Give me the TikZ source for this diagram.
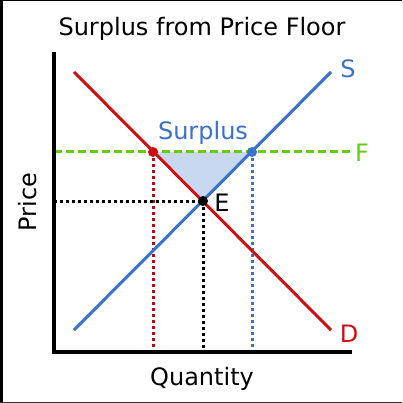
\documentclass[tikz,border=0pt]{standalone}
\usepackage{fontspec}
\setmainfont{DejaVu Sans}
\definecolor{sblue}{RGB}{58,114,200}
\definecolor{dred}{RGB}{204,16,20}
\definecolor{fgreen}{RGB}{102,204,17}
\definecolor{tfill}{RGB}{200,216,240}
\begin{document}
\begin{tikzpicture}[x=1pt,y=-1pt,
  lbl/.style={font=\fontsize{24}{28}\selectfont, inner sep=0pt},
  axisline/.style={line width=4pt},
  curve/.style={line width=3pt},
  dotline/.style={line width=3pt, dash pattern=on 3pt off 3pt},
  pt/.style={circle, inner sep=0pt, minimum size=10pt}]
\useasboundingbox (0,0) rectangle (402,403);
\fill[white] (0,0) rectangle (402,403);
% frame edges
\fill[black] (0,0) rectangle (3,403);
\fill[black] (0,0) rectangle (402,1.5);
\fill[black!80] (0,402) rectangle (402,403);
% coordinates
\coordinate (ytop) at (54,52);
\coordinate (orig) at (54,352);
\coordinate (xend) at (352,352);
\coordinate (s0) at (74,330);
\coordinate (s1) at (331,72);
\coordinate (d0) at (74,72);
\coordinate (d1) at (331,330);
\coordinate (E) at (203,201);
\coordinate (f0) at (54,152);
\coordinate (f1) at (352,152);
\coordinate (pr) at (153,152);
\coordinate (pb) at (252,152);
\coordinate (prb) at (153,352);
\coordinate (pbb) at (252,352);
\coordinate (eb) at (203,352);
\coordinate (el) at (54,201);
% surplus triangle
\fill[tfill] (pr) -- (pb) -- (E) -- cycle;
% dotted guides
\draw[dotline, dred!85!black] (pr) -- (prb);
\draw[dotline, sblue] (pb) -- (pbb);
\draw[dotline, black] (E) -- (eb);
\draw[dotline, black] (el) -- (E);
% floor line
\draw[line width=3pt, fgreen, dash pattern=on 8pt off 4pt] (f0) -- (f1);
% curves
\draw[curve, dred] (d0) -- (d1);
\draw[curve, sblue] (s0) -- (s1);
% axes
\draw[axisline] (ytop) -- (orig) -- (xend);
% dots
\node[pt, fill=dred] (dotr) at (pr) {};
\node[pt, fill=sblue] (dotb) at (pb) {};
\node[pt, fill=black] (dote) at (E) {};
% labels
\node[lbl] (title) at (202,29) {Surplus from Price Floor};
\node[lbl, text=sblue] (slab) at (348,69) {S};
\node[lbl, text=dred] (dlab) at (349,334) {D};
\node[lbl, text=fgreen] (flab) at (362,153) {F};
\node[lbl] (elab) at (222,203) {E};
\node[lbl, text=sblue] (surp) at (203,133) {Surplus};
\node[lbl, rotate=90] (price) at (28,202) {Price};
\node[lbl] (qty) at (202,379) {Quantity};
\end{tikzpicture}
\end{document}
